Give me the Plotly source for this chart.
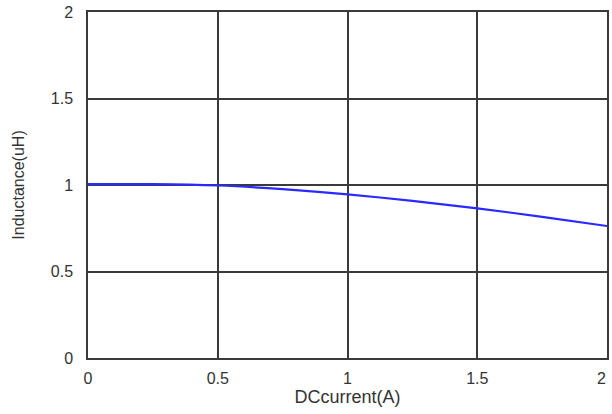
import plotly.graph_objects as go

current_a = [0, 0.25, 0.5, 0.75, 1.0, 1.25, 1.5, 1.75, 2.0]
inductance_uh = [1.005, 1.005, 0.997, 0.976, 0.946, 0.908, 0.865, 0.816, 0.763]

x_ticks = [0, 0.5, 1, 1.5, 2]
x_tick_labels = ["0", "0.5", "1", "1.5", "2"]
y_ticks = [0, 0.5, 1, 1.5, 2]
y_tick_labels = ["0", "0.5", "1", "1.5", "2"]

FONT = "Liberation Sans, Arial, sans-serif"
TEXT_COLOR = "#333333"

fig = go.Figure()
fig.add_trace(go.Scatter(
    x=current_a, y=inductance_uh, mode="lines",
    line=dict(color="#2a2aff", width=2.2, shape="spline", smoothing=0.8),
    showlegend=False, hoverinfo="skip"))

axis_common = dict(
    showgrid=True, gridcolor="#3a3a3a", gridwidth=1.5,
    showline=True, linecolor="#3a3a3a", linewidth=1.5, mirror=True,
    zeroline=False, ticks="outside", tickcolor="rgba(0,0,0,0)",
    automargin=False,
    tickfont=dict(family=FONT, size=16, color=TEXT_COLOR),
)

# the last x tick label sits flush against the right edge (right-aligned), as in the reference
x_axis_labels = x_tick_labels[:-1] + [""]
fig.update_xaxes(range=[0, 2], tickvals=x_ticks, ticktext=x_axis_labels,
                 ticklen=5, title_text="DCcurrent(A)", title_standoff=1,
                 title_font=dict(family=FONT, size=18, color=TEXT_COLOR), **axis_common)
fig.add_annotation(x=x_ticks[-1], xref="x", y=0, yref="paper", text=x_tick_labels[-1],
                   showarrow=False, xanchor="right", yanchor="top", xshift=1, yshift=-10,
                   font=dict(family=FONT, size=16, color=TEXT_COLOR))

fig.update_yaxes(range=[0, 2], tickvals=y_ticks, ticktext=y_tick_labels,
                 ticklen=10, title_text="Inductance(uH)", title_standoff=22,
                 title_font=dict(family=FONT, size=16, color=TEXT_COLOR), **axis_common)

fig.update_layout(
    width=612, height=414,
    margin=dict(l=88, r=5, t=12, b=56),
    paper_bgcolor="white", plot_bgcolor="white",
)

fig.write_html("out.html", config={"displayModeBar": False},
               post_script="document.body.style.margin='0';document.body.style.overflow='hidden';")
